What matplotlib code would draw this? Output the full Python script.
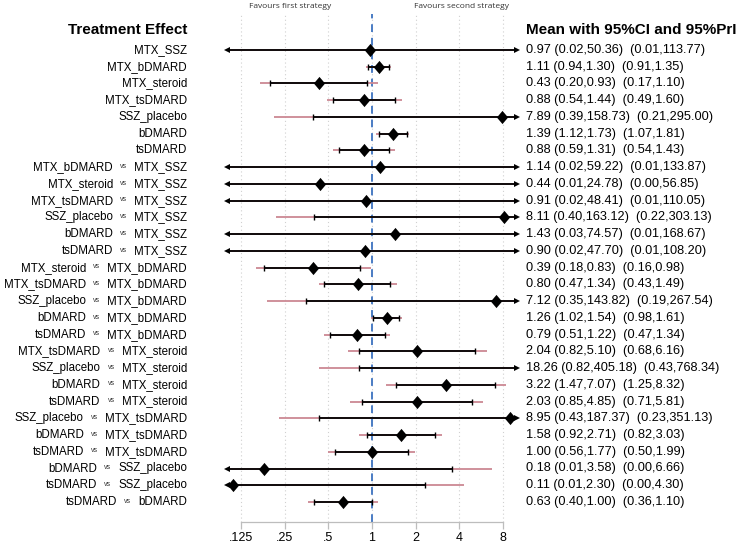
import matplotlib
matplotlib.use("Agg")
import matplotlib.pyplot as plt
import matplotlib.transforms as mtransforms
import numpy as np

plt.rcParams['font.family'] = ['Liberation Sans', 'DejaVu Sans']

# ---------------- data ----------------
treat_a = ["MTX_SSZ", "MTX_bDMARD", "MTX_steroid", "MTX_tsDMARD", "SSZ_placebo",
           "bDMARD", "tsDMARD",
           "MTX_bDMARD", "MTX_steroid", "MTX_tsDMARD", "SSZ_placebo", "bDMARD", "tsDMARD",
           "MTX_steroid", "MTX_tsDMARD", "SSZ_placebo", "bDMARD", "tsDMARD",
           "MTX_tsDMARD", "SSZ_placebo", "bDMARD", "tsDMARD",
           "SSZ_placebo", "bDMARD", "tsDMARD",
           "bDMARD", "tsDMARD",
           "tsDMARD"]
treat_b = [None, None, None, None, None, None, None,
           "MTX_SSZ", "MTX_SSZ", "MTX_SSZ", "MTX_SSZ", "MTX_SSZ", "MTX_SSZ",
           "MTX_bDMARD", "MTX_bDMARD", "MTX_bDMARD", "MTX_bDMARD", "MTX_bDMARD",
           "MTX_steroid", "MTX_steroid", "MTX_steroid", "MTX_steroid",
           "MTX_tsDMARD", "MTX_tsDMARD", "MTX_tsDMARD",
           "SSZ_placebo", "SSZ_placebo",
           "bDMARD"]
mean = [0.97, 1.11, 0.43, 0.88, 7.89, 1.39, 0.88,
        1.14, 0.44, 0.91, 8.11, 1.43, 0.90,
        0.39, 0.80, 7.12, 1.26, 0.79,
        2.04, 18.26, 3.22, 2.03,
        8.95, 1.58, 1.00,
        0.18, 0.11,
        0.63]
ci_lo = [0.02, 0.94, 0.20, 0.54, 0.39, 1.12, 0.59,
         0.02, 0.01, 0.02, 0.40, 0.03, 0.02,
         0.18, 0.47, 0.35, 1.02, 0.51,
         0.82, 0.82, 1.47, 0.85,
         0.43, 0.92, 0.56,
         0.01, 0.01,
         0.40]
ci_hi = [50.36, 1.30, 0.93, 1.44, 158.73, 1.73, 1.31,
         59.22, 24.78, 48.41, 163.12, 74.57, 47.70,
         0.83, 1.34, 143.82, 1.54, 1.22,
         5.10, 405.18, 7.07, 4.85,
         187.37, 2.71, 1.77,
         3.58, 2.30,
         1.00]
pri_lo = [0.01, 0.91, 0.17, 0.49, 0.21, 1.07, 0.54,
          0.01, 0.00, 0.01, 0.22, 0.01, 0.01,
          0.16, 0.43, 0.19, 0.98, 0.47,
          0.68, 0.43, 1.25, 0.71,
          0.23, 0.82, 0.50,
          0.00, 0.00,
          0.36]
pri_hi = [113.77, 1.35, 1.10, 1.60, 295.00, 1.81, 1.43,
          133.87, 56.85, 110.05, 303.13, 168.67, 108.20,
          0.98, 1.49, 267.54, 1.61, 1.34,
          6.16, 768.34, 8.32, 5.81,
          351.13, 3.03, 1.99,
          6.66, 4.30,
          1.10]
tick_vals = [0.125, 0.25, 0.5, 1, 2, 4, 8]
tick_labels = [".125", ".25", ".5", "1", "2", "4", "8"]

# ---------------- layout ----------------
W, H = 740, 546
fig = plt.figure(figsize=(W / 100, H / 100), dpi=100)
ax_left, ax_right = 222, 522
ax_top, ax_bot = 14, 522
ax = fig.add_axes([ax_left / W, 1 - ax_bot / H, (ax_right - ax_left) / W, (ax_bot - ax_top) / H])

row0_px, row_step = 50, 16.74
n = len(mean)
y_bottom = (ax_bot - row0_px) / row_step
y_top = (ax_top - row0_px) / row_step
ax.set_xscale('log', base=2)
ax.set_xlim(2 ** -3.43, 2 ** 3.43)
ax.set_ylim(y_bottom, y_top)

lo_clip, hi_clip = 0.1, 10.0
ci_col = 'black'
pri_col = '#cc8893'

for v in tick_vals:
    ax.axvline(v, color='#d0d0d0', lw=0.8, ls=(0, (1, 2.5)), zorder=0)
ax.axvline(1, color='#4a7cc4', lw=1.4, ls=(0, (4, 3)), zorder=1)

for i in range(n):
    y = i
    pl, ph = max(pri_lo[i], lo_clip), min(pri_hi[i], hi_clip)
    ax.plot([pl, ph], [y, y], color=pri_col, lw=1.3, zorder=2, solid_capstyle='butt')
    cl, ch = max(ci_lo[i], lo_clip), min(ci_hi[i], hi_clip)
    ax.plot([cl, ch], [y, y], color=ci_col, lw=1.3, zorder=3, solid_capstyle='butt')
    if ci_lo[i] >= lo_clip:
        ax.plot([ci_lo[i]], [y], marker='|', ms=5, mew=1.0, color=ci_col, zorder=3)
    else:
        ax.plot([lo_clip], [y], marker='<', ms=4.5, color=ci_col, mew=0, zorder=3)
    if ci_hi[i] <= hi_clip:
        ax.plot([ci_hi[i]], [y], marker='|', ms=5, mew=1.0, color=ci_col, zorder=3)
    else:
        ax.plot([hi_clip], [y], marker='>', ms=4.5, color=ci_col, mew=0, zorder=3)
    if lo_clip <= mean[i] <= hi_clip:
        ax.plot([mean[i]], [y], marker=[(0, 1), (0.85, 0), (0, -1), (-0.85, 0), (0, 1)],
                ms=9.5, color='black', mew=0, zorder=4)

for s in ['top', 'left', 'right']:
    ax.spines[s].set_visible(False)
ax.spines['bottom'].set_color('#bdbdbd')
ax.spines['bottom'].set_linewidth(0.9)
ax.spines['bottom'].set_bounds(tick_vals[0], tick_vals[-1])
ax.set_yticks([])
ax.set_xticks(tick_vals)
ax.set_xticklabels(tick_labels, fontsize=9)
ax.xaxis.set_minor_locator(matplotlib.ticker.NullLocator())
ax.tick_params(axis='x', length=5, color='#bdbdbd', width=0.9, pad=2)
ax.patch.set_visible(False)

# ---------------- text ----------------
lab_x = 187 / W
val_x = 526 / W
lab_fs = 8.3
tr = mtransforms.blended_transform_factory(fig.transFigure, ax.transData)
fig.canvas.draw()
for i in range(n):
    if treat_b[i] is None:
        ax.text(lab_x, i, treat_a[i], transform=tr, ha='right', va='center', fontsize=lab_fs)
    else:
        tb = ax.text(lab_x, i, treat_b[i], transform=tr, ha='right', va='center', fontsize=lab_fs)
        tv = ax.annotate("vs", xy=(0, 0.5), xycoords=tb, xytext=(-5, 0.6),
                         textcoords='offset points', ha='right', va='center', fontsize=5,
                         color='#333333')
        ax.annotate(treat_a[i], xy=(0, 0.5), xycoords=tv, xytext=(-5, -0.6),
                    textcoords='offset points', ha='right', va='center', fontsize=lab_fs)
    txt = "%.2f (%.2f,%.2f)  (%.2f,%.2f)" % (mean[i], ci_lo[i], ci_hi[i], pri_lo[i], pri_hi[i])
    ax.text(val_x, i, txt, transform=tr, ha='left', va='center', fontsize=9.2)

fig.text(lab_x, 1 - 30 / H, "Treatment Effect", ha='right', va='center', fontsize=11,
         fontweight='bold')
fig.text(val_x, 1 - 30 / H, "Mean with 95%CI and 95%PrI", ha='left', va='center', fontsize=11,
         fontweight='bold')
fig.text(290 / W, 1 - 7 / H, "Favours first strategy", ha='center', va='center', fontsize=6,
         color='#333333', family=['Open Sans', 'DejaVu Sans'])
fig.text(462 / W, 1 - 7 / H, "Favours second strategy", ha='center', va='center', fontsize=6,
         color='#333333', family=['Open Sans', 'DejaVu Sans'])

fig.savefig("out.png", dpi=100)
